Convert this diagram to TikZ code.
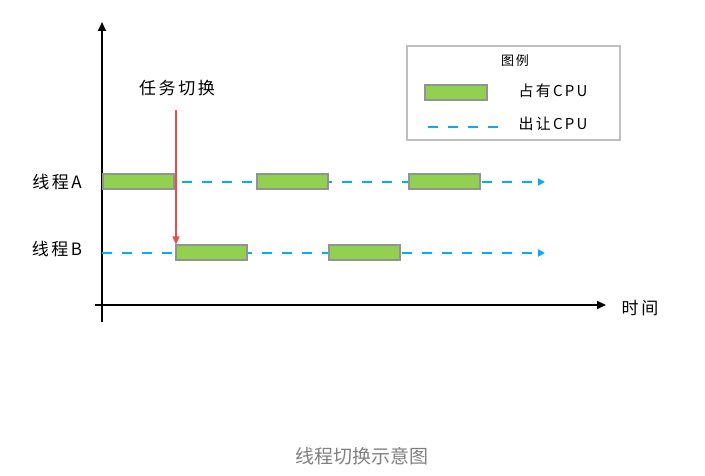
\documentclass[tikz,border=0pt]{standalone}
\usepackage{fontspec}
\setmainfont{Noto Sans CJK SC}
\newfontfamily\hand[LetterSpace=15]{Noto Sans CJK SC}
\usetikzlibrary{positioning,arrows.meta}
\definecolor{cpugreen}{RGB}{146,208,80}
\definecolor{cpublue}{RGB}{0,176,240}
\definecolor{switchred}{RGB}{228,80,80}
\tikzset{
  busy/.style={draw=gray!85, line width=2pt, fill=cpugreen, minimum width=71, minimum height=15, inner sep=0pt},
  idle/.style={cpublue, line width=2pt, dash pattern=on 10pt off 10pt},
  lbl/.style={font=\hand\fontsize{17}{19}\selectfont}
}
\begin{document}
\begin{tikzpicture}[x=1pt, y=-1pt]
\useasboundingbox (0,0) rectangle (705,476);
\def\ya{182};
\def\yb{253};

% axes
\coordinate(o) at (102,305);
\coordinate(yt) at (102,22);
\coordinate(yd) at (102,322);
\coordinate(xt) at (606,305);
\coordinate(xd) at (95,305);
\draw[line width=1.8pt, -{Triangle[length=9pt,width=8pt]}] (yd) -- (yt);
\draw[line width=1.8pt, -{Triangle[length=9pt,width=8pt]}] (xd) -- (xt);
\node[lbl] (time) at (640,308) {时间};

% thread rows
\coordinate(as) at (102,\ya);
\coordinate(ae) at (545,\ya);
\coordinate(bs) at (102,\yb);
\coordinate(be) at (545,\yb);
\draw[idle, -{Triangle[length=7pt,width=7pt]}] (as) -- (ae);
\draw[idle, -{Triangle[length=7pt,width=7pt]}] (bs) -- (be);
\node[lbl] (ta) at (57,\ya) {线程A};
\node[lbl] (tb) at (57,249) {线程B};

\node[busy] (a1) at (138,\ya) {};
\node[busy] (a2) at (292,\ya) {};
\node[busy] (a3) at (444,\ya) {};
\node[busy] (b1) at (211,\yb) {};
\node[busy] (b2) at (364,\yb) {};

% task switch
\node[lbl] (sw) at (177,88) {任务切换};
\coordinate(swtop) at (176,110);
\draw[switchred, line width=1.3pt, -{Triangle[length=8pt,width=7pt]}] (swtop) -- (b1.north west -| swtop);

% legend
\draw[gray!50, line width=1.2pt] (407,46) rectangle (620,140);
\node[font=\hand\fontsize{13}{15}\selectfont] (lgt) at (515,61) {图例};
\node[busy, minimum width=62] (lgb) at (456,93) {};
\node[font=\hand\fontsize{15}{17}\selectfont, anchor=west] (lgbt) at (515,91) {占有CPU};
\coordinate(lgds) at (428,127);
\coordinate(lgde) at (498,127);
\draw[idle] (lgds) -- (lgde);
\node[font=\hand\fontsize{15}{17}\selectfont, anchor=west] (lgdt) at (515,124) {出让CPU};

% caption
\node[text=gray, font=\fontsize{19}{21}\selectfont] (cap) at (362,456) {线程切换示意图};
\end{tikzpicture}
\end{document}
